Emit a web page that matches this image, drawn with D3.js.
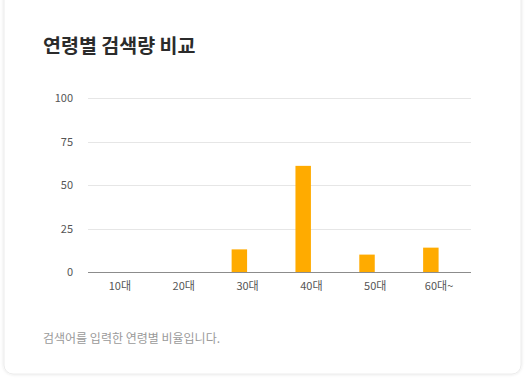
<!DOCTYPE html>
<html><head><meta charset="utf-8">
<script src="https://cdn.jsdelivr.net/npm/d3@7/dist/d3.min.js"></script>
<style>
html,body{margin:0;padding:0;background:#fff;}
svg{display:block;font-family:"Noto Sans CJK KR","Noto Sans",sans-serif;}
</style></head><body>
<svg id="c" width="526" height="378"></svg>
<script>
const title = "연령별 검색량 비교";
const footnote = "검색어를 입력한 연령별 비율입니다.";
const categories = ["10대","20대","30대","40대","50대","60대~"];
const seriesKeys = ["검색량","비교"];
const searchValues = [0, 0, 13, 61, 10, 14];
const compareValues = [0, 0, 0, 0, 0, 0];
const yTicks = [0, 25, 50, 75, 100];

const svg = d3.select("#c");
const defs = svg.append("defs");
const f = defs.append("filter").attr("id","sh").attr("x","-5%").attr("y","-5%").attr("width","110%").attr("height","110%");
f.append("feDropShadow").attr("dx",0).attr("dy",0).attr("stdDeviation",1.5).attr("flood-color","#000").attr("flood-opacity",0.12);

svg.append("rect").attr("x",4).attr("y",-12).attr("width",517).attr("height",386)
  .attr("rx",9).attr("fill","#fff").attr("stroke","#ececec").attr("filter","url(#sh)");

svg.append("text").attr("x",43).attr("y",53).attr("font-size",19.5).attr("font-weight",700)
  .attr("fill","#2b2b2b").text(title);

const pL = 88, pR = 471, pT = 98, pB = 272;
const x0 = d3.scaleBand().domain(categories).range([pL, pR]).padding(0);
const bw = x0.bandwidth();
const x1 = d3.scaleBand().domain(seriesKeys).range([bw*0.25, bw*0.75]).paddingInner(0.06);
const y = d3.scaleLinear().domain([0, 100]).range([pB, pT]);

const grid = svg.append("g");
grid.selectAll("line").data(yTicks.filter(t => t !== 0)).join("line")
  .attr("x1", pL).attr("x2", pR)
  .attr("y1", d => Math.round(y(d)) + 0.5).attr("y2", d => Math.round(y(d)) + 0.5)
  .attr("stroke", "#e6e6e6").attr("stroke-width", 1);

const yAxis = svg.append("g").attr("transform", `translate(${pL},0)`)
  .call(d3.axisLeft(y).tickValues(yTicks).tickSize(0).tickPadding(15));
yAxis.select(".domain").remove();
yAxis.selectAll("text").attr("font-size", 11).attr("fill", "#555")
  .attr("font-family", "'Noto Sans CJK KR','Noto Sans',sans-serif");

const data = categories.map((c, i) => ({cat: c, vals: [
  {key: seriesKeys[0], v: searchValues[i]}, {key: seriesKeys[1], v: compareValues[i]}]}));
const colors = d3.scaleOrdinal().domain(seriesKeys).range(["#ffab00", "#2f7de1"]);

svg.append("g").selectAll("g").data(data).join("g")
  .attr("transform", d => `translate(${x0(d.cat)},0)`)
  .selectAll("rect").data(d => d.vals.filter(v => v.v > 0)).join("rect")
  .attr("x", d => x1(d.key)).attr("width", x1.bandwidth())
  .attr("y", d => y(d.v)).attr("height", d => y(0) - y(d.v))
  .attr("fill", d => colors(d.key));

svg.append("line").attr("x1", pL).attr("x2", pR)
  .attr("y1", Math.round(y(0)) + 0.5).attr("y2", Math.round(y(0)) + 0.5)
  .attr("stroke", "#8c8c8c").attr("stroke-width", 1);

const xAxis = svg.append("g").attr("transform", `translate(0,${pB})`)
  .call(d3.axisBottom(x0).tickSize(0).tickPadding(10));
xAxis.select(".domain").remove();
xAxis.selectAll("text").attr("font-size", 11).attr("fill", "#555")
  .attr("font-family", "'Noto Sans CJK KR','Noto Sans',sans-serif");

svg.append("text").attr("x", 43).attr("y", 343).attr("font-size", 12)
  .attr("fill", "#9a9a9a").text(footnote);
</script>
</body></html>
